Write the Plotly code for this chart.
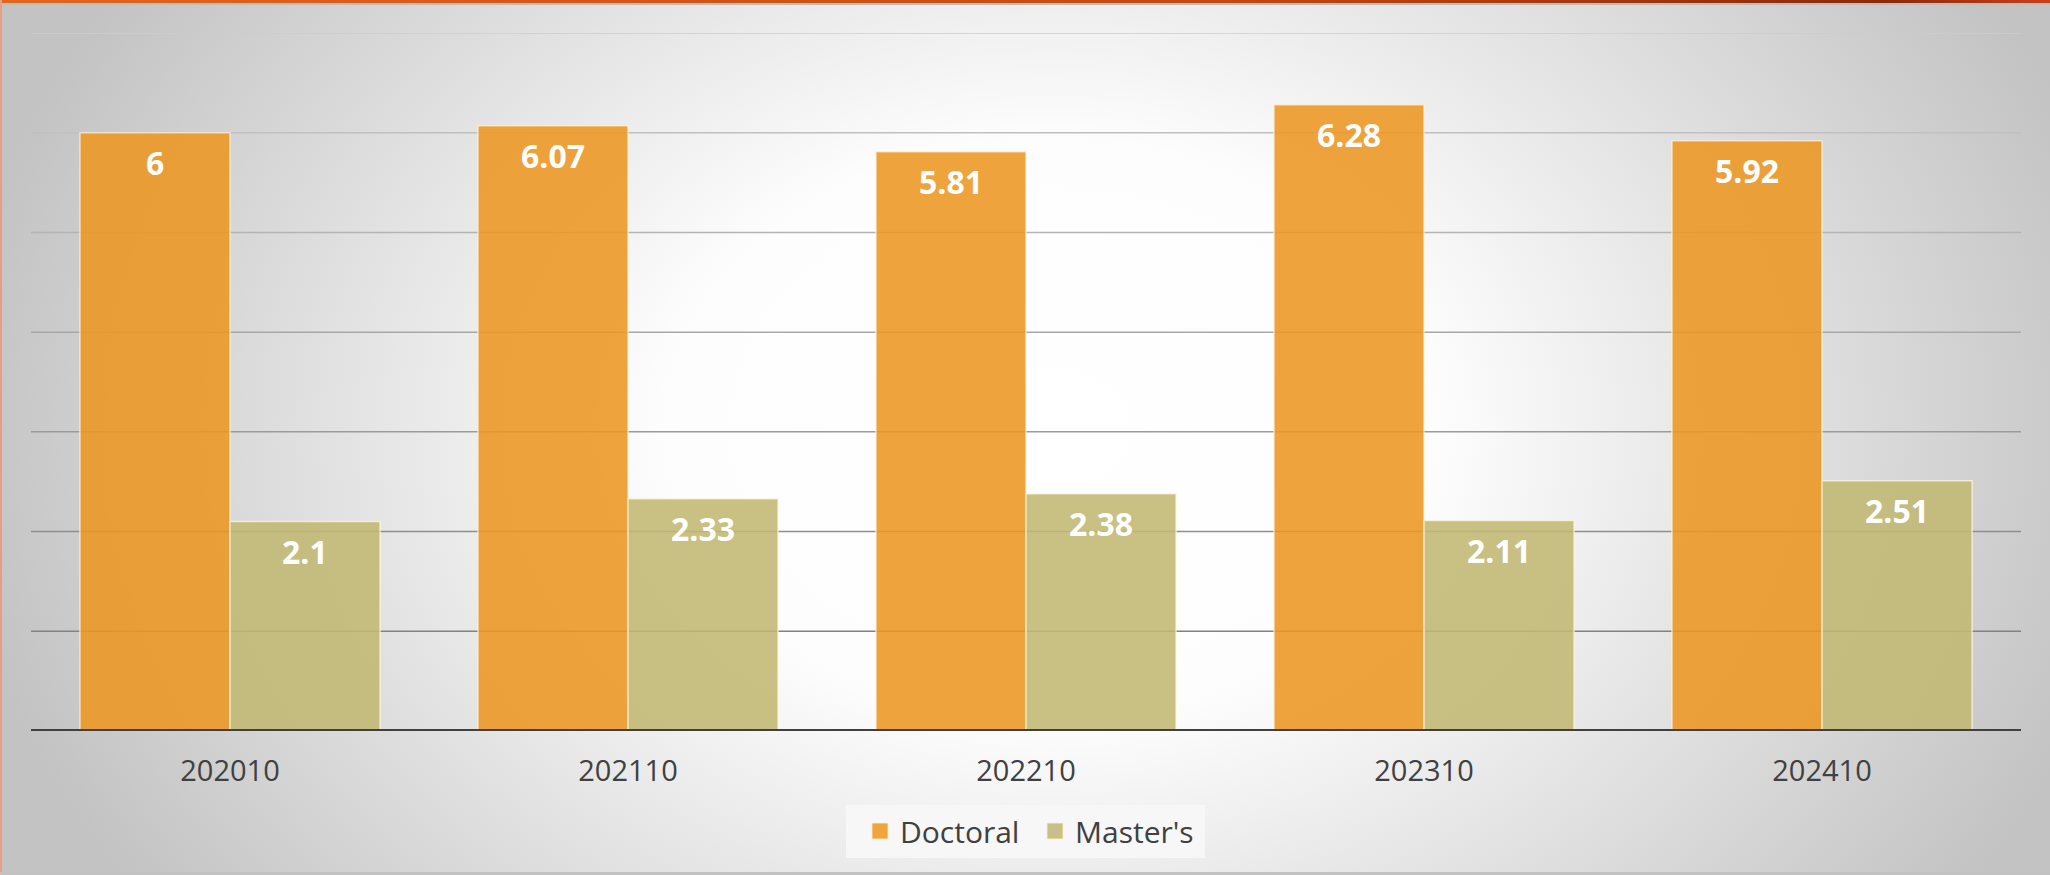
"""
Doctoral vs Master's grouped bar chart
"""
import base64
import plotly.graph_objects as go

# data
periods = ['202010', '202110', '202210', '202310', '202410']
doctoral = [6, 6.07, 5.81, 6.28, 5.92]
masters = [2.1, 2.33, 2.38, 2.11, 2.51]
grid_levels = [1, 2, 3, 4, 5, 6, 7]

W, H = 2050, 875
M_L, M_R, M_T, M_B = 31, 29, 33, 144
PLOT_W = W - M_L - M_R
PLOT_H = H - M_T - M_B

# background: soft radial grey gradient + thin orange top rule
bg_svg = f'''<svg xmlns="http://www.w3.org/2000/svg" width="{W}" height="{H}" viewBox="0 0 {W} {H}">
<defs>
<radialGradient id="g" gradientUnits="userSpaceOnUse" cx="1050" cy="430" r="1100"
 gradientTransform="translate(1050,430) scale(1,0.75) translate(-1050,-430)">
<stop offset="0" stop-color="#ffffff"/>
<stop offset="0.35" stop-color="#fdfdfd"/>
<stop offset="1" stop-color="#c3c3c3"/>
</radialGradient>
<linearGradient id="t" x1="0" x2="1" y1="0" y2="0">
<stop offset="0" stop-color="#e2661e"/>
<stop offset="0.6" stop-color="#c24812"/>
<stop offset="0.92" stop-color="#8c2a08"/>
<stop offset="1" stop-color="#c8401a"/>
</linearGradient>
</defs>
<rect x="0" y="0" width="{W}" height="{H}" fill="url(#g)"/>
<rect x="0" y="0" width="{W}" height="3" fill="url(#t)"/>
<rect x="0" y="3" width="{W}" height="2" fill="#bdbdbd"/>
<rect x="0" y="0" width="2" height="{H}" fill="#e4a080"/>
<rect x="0" y="{H - 3}" width="{W}" height="3" fill="#c2c2c2"/>
</svg>'''
bg_uri = 'data:image/svg+xml;base64,' + base64.b64encode(bg_svg.encode()).decode()

DOC_COLOR = 'rgba(237,150,33,0.88)'
MAS_COLOR = 'rgba(194,183,114,0.88)'
BAR_PX = 150  # approx pixel width of a single bar

fig = go.Figure()

fig.add_trace(go.Bar(
    x=periods, y=doctoral, name='Doctoral', showlegend=False,
    marker=dict(color=DOC_COLOR, line=dict(color='rgba(255,245,225,0.7)', width=1.5)),
    hoverinfo='x+y+name'
))
fig.add_trace(go.Bar(
    x=periods, y=masters, name="Master's", showlegend=False,
    marker=dict(color=MAS_COLOR, line=dict(color='rgba(255,250,230,0.7)', width=1.5)),
    hoverinfo='x+y+name'
))

# legend entries with the larger square swatches
for name, col in (('Doctoral', '#f2a43c'), ("Master's", '#c9c088')):
    fig.add_trace(go.Scatter(
        x=[None], y=[None], mode='markers', name=name,
        marker=dict(symbol='square', size=16, color=col,
                    line=dict(color='rgba(255,240,210,0.8)', width=1))
    ))

# gridlines, darker toward the bottom
shapes = []
for lv in grid_levels:
    g = int(130 + (lv - 1) / (len(grid_levels) - 1) * 75)
    shapes.append(dict(
        type='line', xref='paper', yref='y', x0=0, x1=1, y0=lv, y1=lv,
        line=dict(color=f'rgb({g},{g},{g})', width=1.5), layer='below'
    ))
# dark baseline
shapes.append(dict(
    type='line', xref='paper', yref='y', x0=0, x1=1, y0=0, y1=0,
    line=dict(color='#404040', width=4), layer='above'
))
# legend backing box
shapes.append(dict(
    type='rect', xref='paper', yref='paper',
    x0=(846 - M_L) / PLOT_W, x1=(1205 - M_L) / PLOT_W,
    y0=-(858 - (H - M_B)) / PLOT_H, y1=-(805 - (H - M_B)) / PLOT_H,
    fillcolor='#f7f7f7', line=dict(width=0), layer='below'
))

# value labels inside the bars near the top (x as category index)
annotations = []
for series, shift in ((doctoral, -BAR_PX / 2), (masters, BAR_PX / 2)):
    for i, v in enumerate(series):
        annotations.append(dict(
            x=i, y=v, xref='x', yref='y', text=f'{v:g}', showarrow=False,
            xshift=shift, yshift=-30, yanchor='middle',
            font=dict(family='Open Sans', size=32, color='white', weight='bold')
        ))

fig.update_layout(
    width=W, height=H,
    margin=dict(l=M_L, r=M_R, t=M_T, b=M_B, autoexpand=False),
    paper_bgcolor='#dcdcdc',
    plot_bgcolor='rgba(0,0,0,0)',
    barmode='group',
    bargap=0.246,
    bargroupgap=0,
    showlegend=True,
    legend=dict(
        orientation='h', x=0.5 + 9 / PLOT_W, xanchor='center',
        y=-(805 - (H - M_B)) / PLOT_H, yanchor='top',
        bgcolor='rgba(0,0,0,0)', font=dict(family='Open Sans', size=30, color='#404040'),
        itemclick=False, itemdoubleclick=False, itemwidth=30, entrywidth=130
    ),
    xaxis=dict(
        type='category', range=[-0.5, len(periods) - 0.5],
        showgrid=False, showline=False, zeroline=False, ticks='',
        tickfont=dict(family='Open Sans', size=29, color='#404040'),
        ticklabelstandoff=20, automargin=False
    ),
    yaxis=dict(range=[0, 7], visible=False, showgrid=False, zeroline=False, automargin=False),
    shapes=shapes,
    annotations=annotations,
    images=[dict(
        source=bg_uri, xref='paper', yref='paper',
        x=-M_L / PLOT_W, y=1 + M_T / PLOT_H, sizex=W / PLOT_W, sizey=H / PLOT_H,
        xanchor='left', yanchor='top', sizing='stretch', layer='below'
    )],
)

fig.write_html("out.html", config={'displayModeBar': False},
               post_script="document.body.style.margin='0';")
